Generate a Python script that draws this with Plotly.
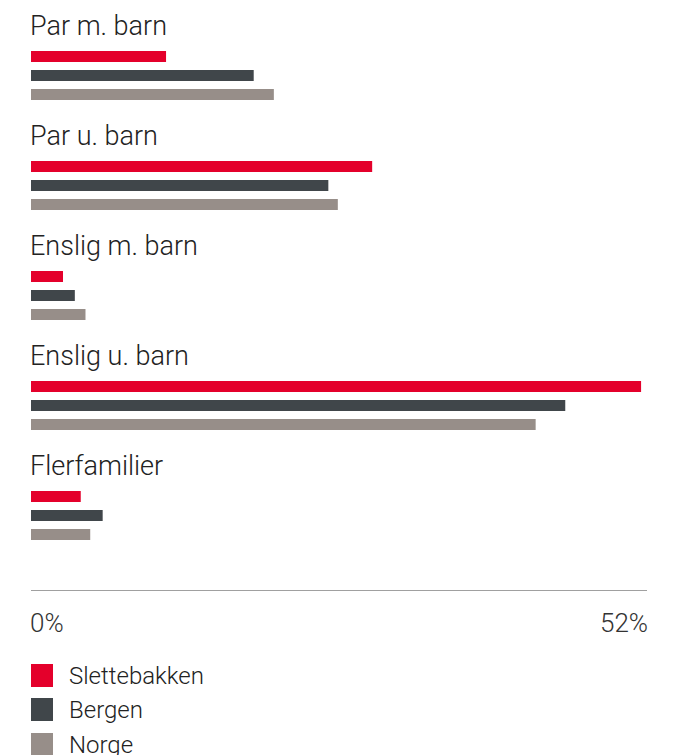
import plotly.graph_objects as go

categories = ["Par m. barn", "Par u. barn", "Enslig m. barn", "Enslig u. barn", "Flerfamilier"]
series_names = ["Slettebakken", "Bergen", "Norge"]
slettebakken = [11.4, 28.8, 2.7, 51.5, 4.2]
bergen = [18.8, 25.1, 3.7, 45.1, 6.05]
norge = [20.5, 25.9, 4.6, 42.6, 5.0]
colors = ["#E4002B", "#40464A", "#978E89"]
tick_vals = [0, 52]
tick_labels = ["0%", "52%"]

values = [slettebakken, bergen, norge]

# layout units: 1 unit = spacing between bars in a group
GROUP_PITCH = 5.79
BAR_W = 0.58
LABEL_OFF = 1.63

fig = go.Figure()
for j, (name, vals, col) in enumerate(zip(series_names, values, colors)):
    ys = [i * GROUP_PITCH + j for i in range(len(categories))]
    fig.add_trace(go.Bar(
        x=vals, y=ys, orientation="h", name=name,
        marker=dict(color=col, line=dict(width=0)),
        width=BAR_W, showlegend=False, hoverinfo="x+name",
    ))

font_main = "Roboto"
annotations = []
for i, cat in enumerate(categories):
    annotations.append(dict(
        x=0, y=i * GROUP_PITCH - LABEL_OFF, xref="x", yref="y",
        text=cat, showarrow=False, xanchor="left", yanchor="middle",
        xshift=-2, borderpad=0,
        font=dict(family=font_main, size=27, color="#222222", weight=300),
    ))

# axis end labels
for v, t, anc, xs in zip(tick_vals, tick_labels, ["left", "right"], [-2, 2]):
    annotations.append(dict(
        x=v, y=0, xref="x", yref="paper", text=t, showarrow=False,
        xanchor=anc, yanchor="middle", yshift=-33, xshift=xs, borderpad=0,
        font=dict(family=font_main, size=26, color="#333333", weight=300),
    ))

shapes = []
leg_offsets = [-74, -108, -143]
for name, col, off in zip(series_names, colors, leg_offsets):
    shapes.append(dict(
        type="rect", xref="paper", yref="paper",
        xsizemode="pixel", ysizemode="pixel", xanchor=0, yanchor=0,
        x0=0, x1=22, y0=off, y1=off - 23,
        fillcolor=col, line=dict(width=0),
    ))
    annotations.append(dict(
        x=0, y=0, xref="paper", yref="paper", text=name, showarrow=False,
        xanchor="left", yanchor="middle", xshift=37, yshift=off - 12, borderpad=0,
        font=dict(family=font_main, size=24, color="#222222", weight=300),
    ))

top_units = 56.5 / 19.0
bottom_units = (590 - 56.5) / 19.0

fig.update_layout(
    width=674, height=755,
    margin=dict(l=31, r=27, t=0, b=165),
    paper_bgcolor="white", plot_bgcolor="white",
    barmode="overlay",
    xaxis=dict(range=[0, 52], showgrid=False, zeroline=False, showline=True,
               linecolor="#A0A0A0", linewidth=1, showticklabels=False, ticks="",
               fixedrange=True),
    yaxis=dict(range=[bottom_units, -top_units], showgrid=False, zeroline=False,
               showline=False, showticklabels=False, ticks="", fixedrange=True),
    annotations=annotations, shapes=shapes,
    showlegend=False,
)

fig.write_html("out.html")
